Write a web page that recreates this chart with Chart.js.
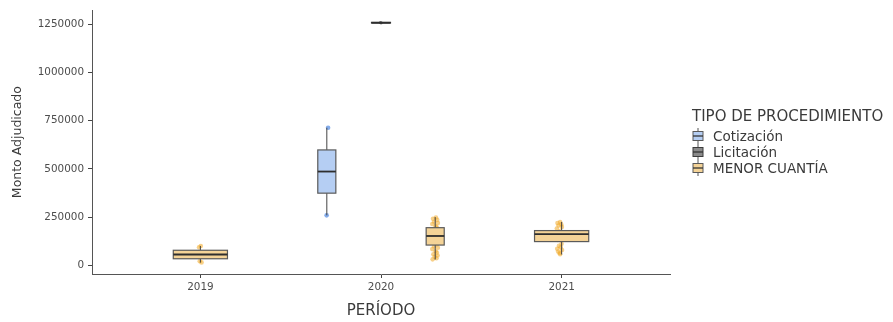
<!DOCTYPE html>
<html><head><meta charset="utf-8">
<script src="https://cdn.jsdelivr.net/npm/chart.js@4.4.1/dist/chart.umd.min.js"></script>
<style>
html,body{margin:0;padding:0;background:#fff;}
#wrap{position:relative;width:893px;height:322px;overflow:hidden;}
#legend{position:absolute;left:692px;top:107px;font-family:'DejaVu Sans',sans-serif;color:#3a3a3a;}
#legend .ttl{font-size:15px;line-height:19px;margin-bottom:2px;white-space:nowrap;}
#legend .item{display:flex;align-items:center;height:16px;font-size:13.5px;white-space:nowrap;}
#legend svg{margin-right:9px;}
</style></head><body>
<div id="wrap"><canvas id="c" width="893" height="322"></canvas><div id="legend"></div></div>
<script>
// ---- data ----
const categories = ['2019', '2020', '2021'];
const groups = ['Cotización', 'Licitación', 'MENOR CUANTÍA'];
const yTickValues = [0, 250000, 500000, 750000, 1000000, 1250000];
const xTitle = 'PERÍODO';
const yTitle = 'Monto Adjudicado';
const legendTitle = 'TIPO DE PROCEDIMIENTO';

// box statistics: [lower whisker, Q1, median, Q3, upper whisker]
const menor2019 = [14000, 34000, 56000, 78000, 100000];
const cotizacion2020 = [259000, 374000, 486000, 598000, 713000];
const licitacion2020 = [1254000, 1256000, 1257000, 1259000, 1260000];
const menor2020 = [30000, 105000, 152000, 195000, 250000];
const menor2021 = [56000, 123000, 162000, 180000, 225000];

// observed (jittered) data points
const menor2019Pts = [100000, 93000, 15000, 21000, 58000, 66000];
const cotizacion2020Pts = [713000, 259000, 540000, 430000];
const licitacion2020Pts = [1257000, 1258000];
const menor2020Pts = [248000, 241000, 236000, 226000, 219000, 214000, 203000, 197000, 186000, 181000, 172000,
  163000, 158000, 149000, 141000, 133000, 126000, 118000, 109000, 98000, 91000, 84000, 73000, 66000, 57000,
  51000, 44000, 37000, 31000];
const menor2021Pts = [224000, 219000, 212000, 206000, 199000, 191000, 176000, 150000, 131000, 112000, 101000,
  94000, 86000, 79000, 71000, 64000, 58000];

// ---- styling / layout (not data) ----
const colors = {
  'Cotización': {fill: '#b5cef3', stroke: '#5a5a5a', point: 'rgba(110,158,232,0.85)', r: 2.3},
  'Licitación': {fill: '#8a8a8a', stroke: '#3c3c3c', point: 'rgba(60,60,60,0.6)', r: 1.6},
  'MENOR CUANTÍA': {fill: '#f4d397', stroke: '#5a5a5a', point: 'rgba(240,170,40,0.55)', r: 2.3}
};
const jitterA = [0.004, -0.012, 0.011, -0.006, 0.015, -0.016, 0.002, 0.009, -0.01, 0.013, -0.003, 0.007, -0.014, 0.016, -0.008, 0.001];
const boxes = [
  {cat: 0, group: 'MENOR CUANTÍA', stats: menor2019, pts: menor2019Pts, off: 0, w: 0.30, jc: 0, js: 0.6},
  {cat: 1, group: 'Cotización', stats: cotizacion2020, pts: cotizacion2020Pts, off: -0.30, w: 0.10, jc: 0.005, js: 0.5},
  {cat: 1, group: 'Licitación', stats: licitacion2020, pts: licitacion2020Pts, off: 0, w: 0.105, jc: 0, js: 0.3},
  {cat: 1, group: 'MENOR CUANTÍA', stats: menor2020, pts: menor2020Pts, off: 0.30, w: 0.10, jc: 0, js: 1},
  {cat: 2, group: 'MENOR CUANTÍA', stats: menor2021, pts: menor2021Pts, off: 0, w: 0.30, jc: -0.012, js: 0.9}
];

const datasets = boxes.map(b => ({
  label: b.group,
  data: b.pts.map((v, i) => ({x: b.cat + 1 + b.off + b.jc + jitterA[i % jitterA.length] * b.js, y: v})),
  backgroundColor: colors[b.group].point,
  borderWidth: 0,
  pointRadius: colors[b.group].r,
  pointHoverRadius: colors[b.group].r
}));

const boxPlugin = {
  id: 'boxes',
  afterDatasetsDraw(chart) {
    const {ctx, scales: {x, y}} = chart;
    ctx.save();
    boxes.forEach(b => {
      const c = colors[b.group];
      const cx = x.getPixelForValue(b.cat + 1 + b.off);
      const x0 = x.getPixelForValue(b.cat + 1 + b.off - b.w / 2);
      const x1 = x.getPixelForValue(b.cat + 1 + b.off + b.w / 2);
      const [lo, q1, md, q3, hi] = b.stats.map(v => y.getPixelForValue(v));
      ctx.strokeStyle = '#444';
      ctx.lineWidth = 1;
      ctx.beginPath();
      ctx.moveTo(cx, lo); ctx.lineTo(cx, q1);
      ctx.moveTo(cx, q3); ctx.lineTo(cx, hi);
      ctx.stroke();
      ctx.fillStyle = c.fill;
      ctx.fillRect(x0, q3, x1 - x0, q1 - q3);
      ctx.strokeStyle = c.stroke;
      ctx.lineWidth = 1.2;
      ctx.strokeRect(x0, q3, x1 - x0, q1 - q3);
      ctx.strokeStyle = '#2e2e2e';
      ctx.lineWidth = 1.8;
      ctx.beginPath();
      ctx.moveTo(x0, md); ctx.lineTo(x1, md);
      ctx.stroke();
    });
    ctx.restore();
  }
};

const tickFont = {family: 'DejaVu Sans', size: 10.4};
new Chart(document.getElementById('c'), {
  type: 'scatter',
  data: {datasets},
  plugins: [boxPlugin],
  options: {
    responsive: false,
    animation: false,
    events: [],
    layout: {padding: {left: 0, right: 223, top: 7, bottom: 0}},
    plugins: {legend: {display: false}, tooltip: {enabled: false}},
    scales: {
      x: {
        type: 'linear', min: 0.4, max: 3.6,
        afterBuildTicks: s => { s.ticks = categories.map((c, i) => ({value: i + 1})); },
        afterFit: s => { s.height = 48; },
        ticks: {callback: v => categories[v - 1], font: tickFont, color: '#4d4d4d', padding: 3, maxRotation: 0},
        grid: {drawOnChartArea: false, drawTicks: true, tickLength: 4, color: '#444', tickWidth: 1},
        border: {display: true, color: '#555', width: 1},
        title: {display: true, text: xTitle, font: {family: 'DejaVu Sans', size: 15}, color: '#3a3a3a', padding: {bottom: 2}}
      },
      y: {
        type: 'linear', min: -45000, max: 1322000,
        afterBuildTicks: s => { s.ticks = yTickValues.map(v => ({value: v})); },
        afterFit: s => { s.width = 92; },
        ticks: {callback: v => String(v), font: tickFont, color: '#4d4d4d', padding: 4},
        grid: {drawOnChartArea: false, drawTicks: true, tickLength: 4, color: '#444', tickWidth: 1},
        border: {display: true, color: '#555', width: 1},
        title: {display: true, text: yTitle, font: {family: 'DejaVu Sans', size: 12.5}, color: '#3a3a3a', padding: {top: 10}}
      }
    }
  }
});

// legend
const lg = document.getElementById('legend');
const t = document.createElement('div'); t.className = 'ttl'; t.textContent = legendTitle; lg.appendChild(t);
groups.forEach(g => {
  const c = colors[g];
  const it = document.createElement('div'); it.className = 'item';
  it.innerHTML = '<svg width="12" height="16" viewBox="0 0 12 16"><line x1="6" y1="0" x2="6" y2="16" stroke="#555" stroke-width="1"/>' +
    '<rect x="1" y="3.5" width="10" height="9" fill="' + c.fill + '" stroke="' + c.stroke + '" stroke-width="1"/>' +
    '<line x1="1" y1="8" x2="11" y2="8" stroke="#333" stroke-width="1.3"/></svg>';
  const s = document.createElement('span'); s.textContent = g; it.appendChild(s);
  lg.appendChild(it);
});
</script>
</body></html>
